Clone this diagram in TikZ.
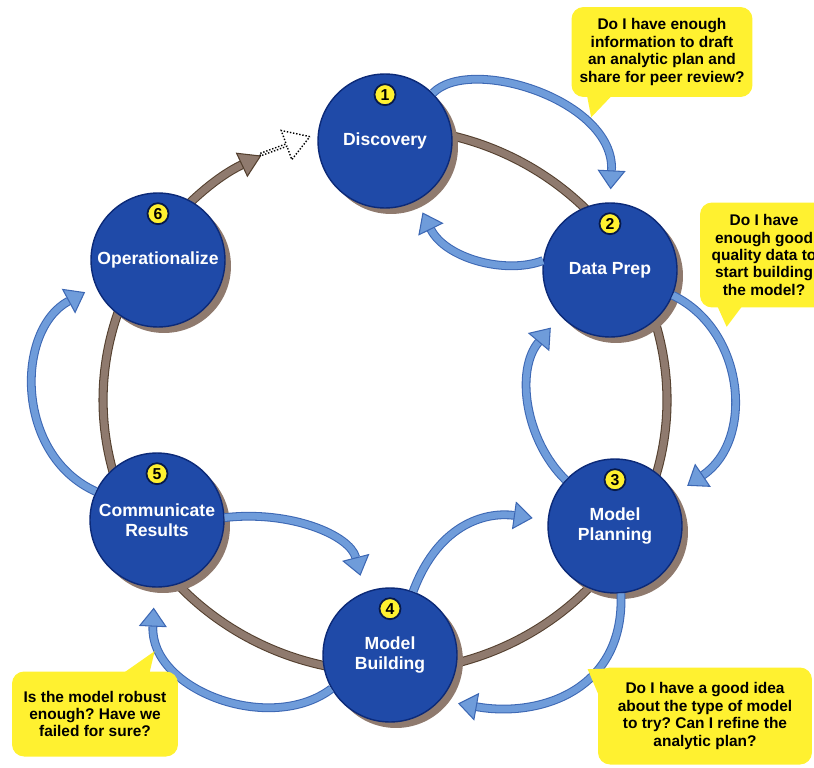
\documentclass[tikz,border=0pt]{standalone}
\usepackage{fontspec}
\setmainfont{Liberation Sans}
\usetikzlibrary{positioning,calc,arrows.meta,shadows,shapes.arrows}
\frenchspacing

\definecolor{stageblue}{HTML}{1F4AA8}
\definecolor{stageedge}{HTML}{0C2A78}
\definecolor{ringbrown}{HTML}{8F7A6E}
\definecolor{ringedge}{HTML}{54402F}
\definecolor{loopblue}{HTML}{6F9CDA}
\definecolor{loopedge}{HTML}{3D68B4}
\definecolor{noteyellow}{HTML}{FFF130}

\tikzset{
  stage/.style={circle, fill=stageblue, draw=stageedge, line width=0.8pt,
    minimum size=2.68cm, inner sep=0pt, text=white, align=center,
    font=\bfseries\fontsize{10}{11.5}\selectfont,
    drop shadow={shadow xshift=0.12cm, shadow yshift=-0.12cm, fill=ringbrown, opacity=1}},
  badge/.style={circle, fill=noteyellow, draw=stageedge!60!black, line width=1pt,
    minimum size=0.42cm, inner sep=0pt, font=\bfseries\fontsize{9}{9}\selectfont},
  ring/.style={draw=ringedge, double=ringbrown, line width=0.6pt, double distance=4pt},
  feedback/.style={draw=loopedge, double=loopblue, line width=0.6pt,
    double distance=3.8pt, -{Triangle[width=0.56cm, length=0.38cm, fill=loopblue]}},
  note/.style={fill=noteyellow, rounded corners=0.24cm, align=center, inner sep=0pt,
    font=\bfseries\fontsize{8.8}{9.9}\selectfont},
}

\begin{document}
\begin{tikzpicture}[x=0.02cm, y=-0.02cm]
  \useasboundingbox (0,0) rectangle (814,767);

  % the cycle behind the stages
  \coordinate (hub) at (385,400);
  \draw[ring] ($(hub)+(100:5.64cm and 5.44cm)$)
    arc[start angle=100, end angle=-213, x radius=5.64cm, y radius=5.44cm];
  \draw[ring, -{Triangle[width=0.54cm, length=0.44cm, fill=ringbrown]}]
    ($(hub)+(148:5.64cm and 5.44cm)$)
    arc[start angle=148, end angle=116, x radius=5.64cm, y radius=5.44cm];
  \node[single arrow, draw=black, densely dotted, line width=0.8pt, fill=white,
    rotate=20, minimum height=1.06cm, minimum width=0.62cm,
    single arrow head extend=0.16cm, single arrow tip angle=64, inner sep=0pt]
    (nextloop) at (284,146) {};

  % stages
  \node[stage] (disc) at (385,141) {Discovery};
  \node[stage] (prep) at (610,270) {Data Prep};
  \node[stage] (plan) at (615,526) {Model\\Planning};
  \node[stage] (build) at (390,655) {Model\\Building};
  \node[stage] (comm) at (157,520) {Communicate\\Results};
  \node[stage] (oper) at (158,260) {Operationalize};

  \node[badge, below=0.2cm of disc.north] (disc-n) {1};
  \node[badge, below=0.2cm of prep.north] (prep-n) {2};
  \node[badge, below=0.2cm of plan.north] (plan-n) {3};
  \node[badge, below=0.2cm of build.north] (build-n) {4};
  \node[badge, below=0.2cm of comm.north] (comm-n) {5};
  \node[badge, below=0.2cm of oper.north] (oper-n) {6};

  % going forward and back
  \draw[feedback, shorten >=0.26cm] (disc.45) .. controls (470,55) and (615,100) .. (prep.90);
  \draw[feedback, shorten >=0.26cm] (prep.172) .. controls (505,275) and (445,258) .. (disc.-62);
  \draw[feedback, shorten >=0.3cm] (prep.-22) .. controls (745,330) and (755,440) .. (plan.28);
  \draw[feedback, shorten >=0.3cm] (plan.137) .. controls (525,440) and (515,370) .. (prep.-137);
  \draw[feedback, shorten >=0.36cm] (plan.-85) .. controls (625,690) and (540,718) .. (build.-42);
  \draw[feedback, shorten >=0.3cm] (build.70) .. controls (440,520) and (490,512) .. (plan.175);
  \draw[feedback, shorten >=0.34cm] (comm.2) .. controls (290,510) and (350,535) .. (build.112);
  \draw[feedback, shorten >=0.4cm] (build.210) .. controls (270,735) and (150,690) .. (comm.-92);
  \draw[feedback, shorten >=0.24cm] (comm.155) .. controls (15,455) and (15,330) .. (oper.203);

  % questions
  \node[note, minimum width=3.62cm, minimum height=1.8cm] (q1) at (662,52)
    {Do I have enough\\information to draft\\an analytic plan and\\share for peer review?};
  \fill[noteyellow] ($(q1.south west)+(16,-1)$) -- ($(q1.south west)+(20,20)$)
    -- ($(q1.south west)+(40,-1)$) -- cycle;
  \node[note, minimum width=2.56cm, minimum height=2.1cm] (q2) at (764,255)
    {Do I have\\enough good\\quality data to\\start building\\the model?};
  \fill[noteyellow] ($(q2.south west)+(18,-1)$) -- ($(q2.south west)+(27,19)$)
    -- ($(q2.south west)+(42,-1)$) -- cycle;
  \node[note, minimum width=3.32cm, minimum height=1.7cm] (q3) at (95,714)
    {Is the model robust\\enough? Have we\\failed for sure?};
  \fill[noteyellow] ($(q3.north west)+(113,1)$) -- ($(q3.north west)+(143,-20)$)
    -- ($(q3.north west)+(138,1)$) -- cycle;
  \node[note, minimum width=4.28cm, minimum height=1.94cm] (q4) at (705,716)
    {Do I have a good idea\\about the type of model\\to try? Can I refine the\\analytic plan?};
  \fill[noteyellow] ($(q4.north west)+(1,28)$) -- ($(q4.north west)+(-10,2)$)
    -- ($(q4.north west)+(26,1)$) -- cycle;
\end{tikzpicture}
\end{document}
